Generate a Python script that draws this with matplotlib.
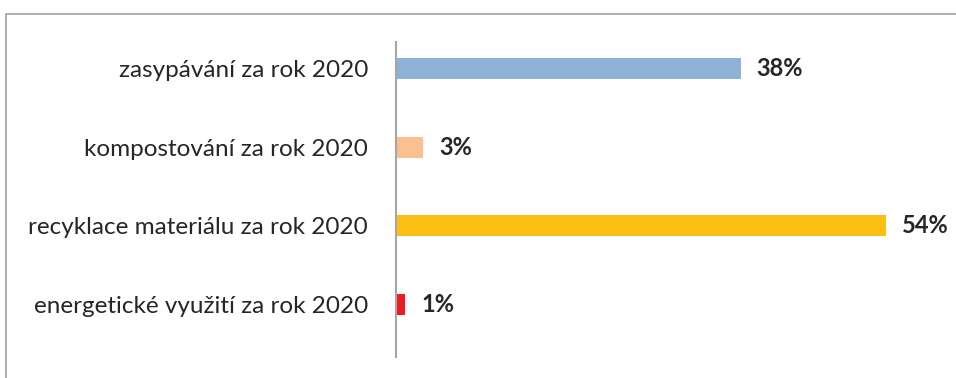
import matplotlib
matplotlib.use("Agg")
import matplotlib.pyplot as plt
from matplotlib.patches import Rectangle

categories = ["zasypávání za rok 2020", "kompostování za rok 2020",
              "recyklace materiálu za rok 2020", "energetické využití za rok 2020"]
values = [38, 3, 54, 1]
labels = ["38%", "3%", "54%", "1%"]
colors = ["#8FB0D7", "#FAC090", "#FBBE13", "#ED1C24"]

plt.rcParams['font.family'] = ['Lato', 'DejaVu Sans']

W, H = 956, 378
fig = plt.figure(figsize=(W/100, H/100), dpi=100)
ax = fig.add_axes([396/W, 1-357/H, (940-396)/W, (357-42)/H])

y = list(range(len(categories)))
ax.barh(y, values, height=0.267, color=colors)
ax.set_ylim(3.667, -0.336)
ax.set_xlim(0, 60)

for yi, v, lab in zip(y, values, labels):
    ax.annotate(lab, (v, yi), xytext=(11.5, 0), textcoords='offset points',
                ha='left', va='center', fontsize=17, fontweight='bold', color='#262626')

ax.set_yticks(y)
ax.set_yticklabels(categories, fontsize=17.5, color='#262626')
ax.tick_params(axis='y', length=0, pad=20)
ax.set_xticks([])
for s in ['top', 'right', 'bottom']:
    ax.spines[s].set_visible(False)
ax.spines['left'].set_color('#A6A6A6')
ax.spines['left'].set_linewidth(1.5)

frame = Rectangle((5.5/W, -0.1), 1.2, 1.1 - 13.5/H, transform=fig.transFigure,
                  fill=False, edgecolor='#A0A0A0', linewidth=1.2, clip_on=False)
fig.patches.append(frame)

fig.savefig("out.png", dpi=100)
